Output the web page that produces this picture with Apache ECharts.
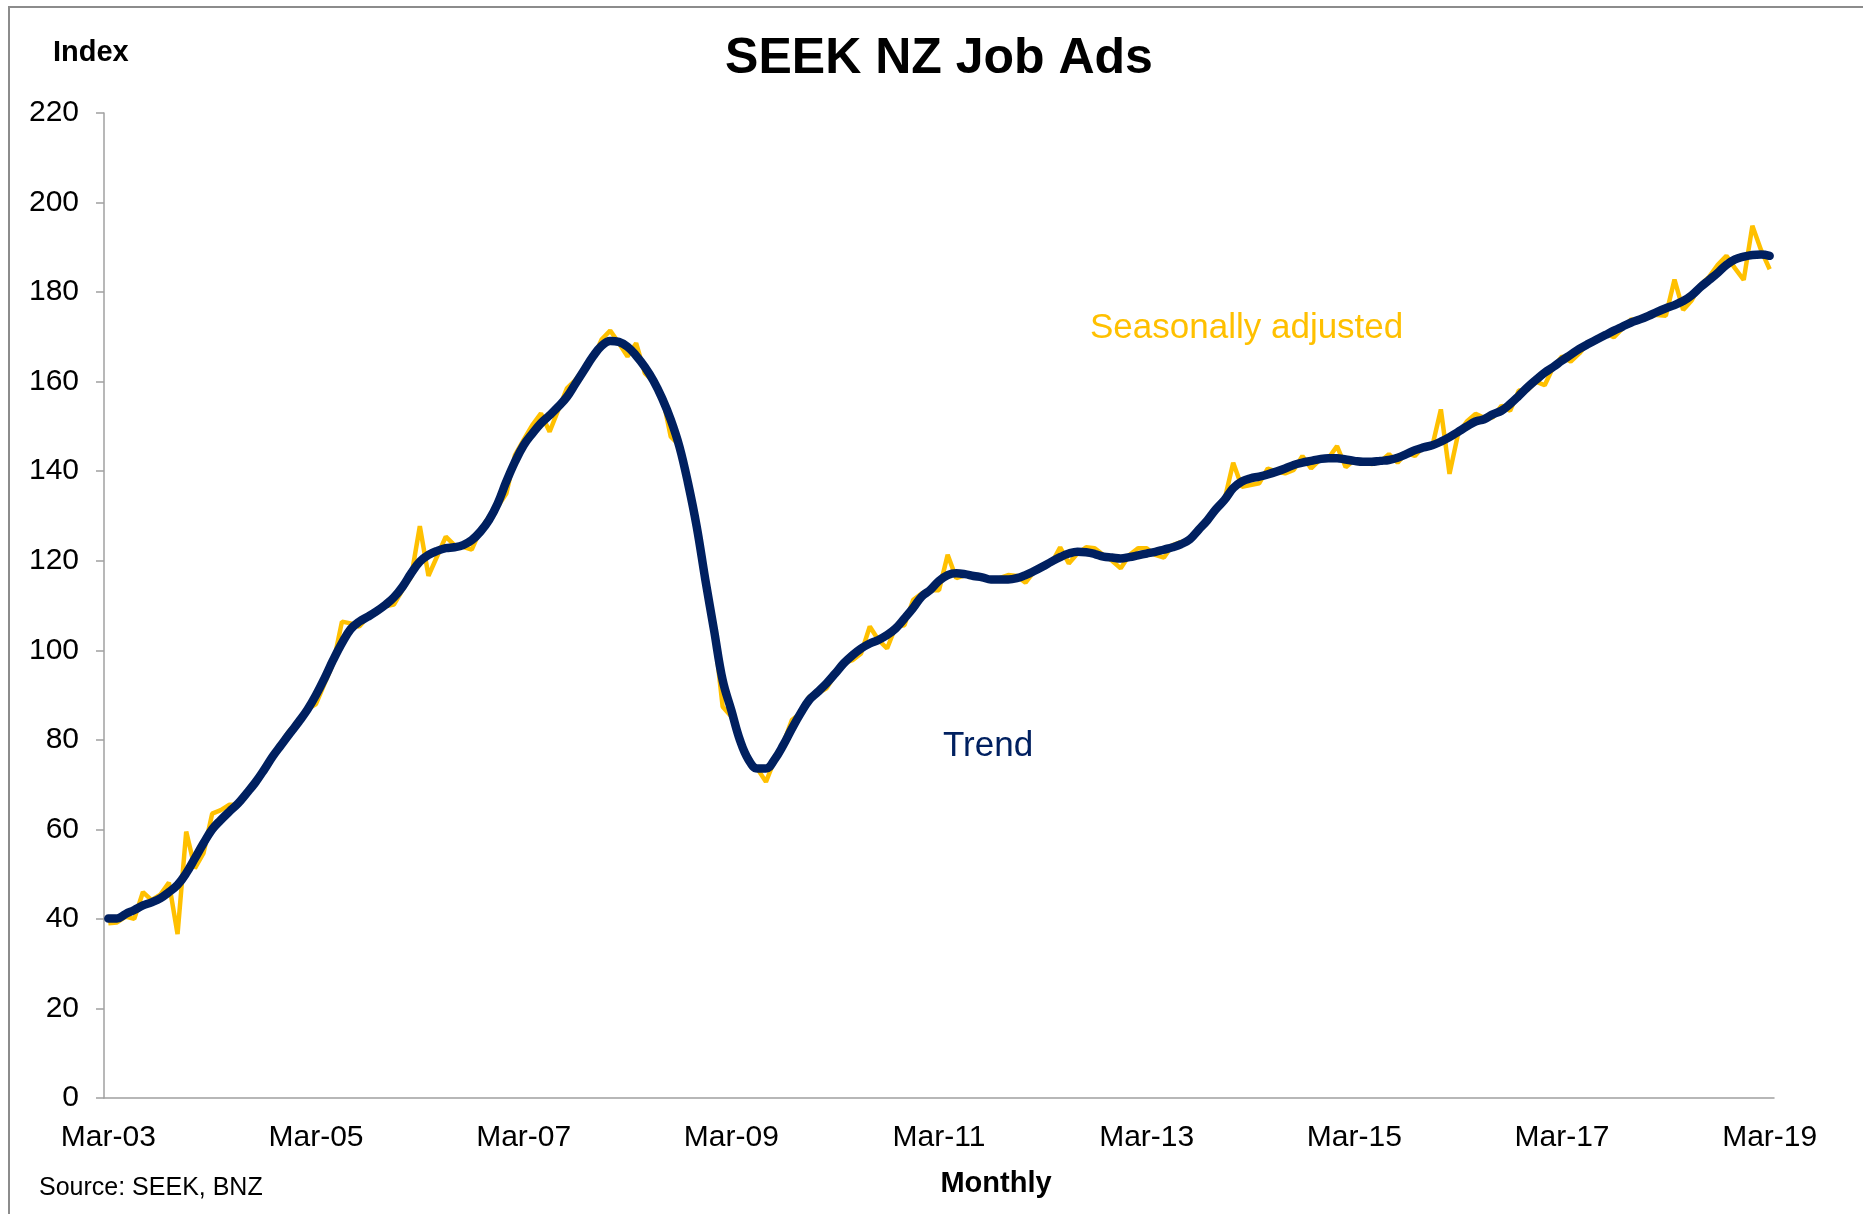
<!DOCTYPE html>
<html>
<head>
<meta charset="utf-8">
<title>SEEK NZ Job Ads</title>
<script src="https://cdn.jsdelivr.net/npm/echarts@6/dist/echarts.min.js"></script>
<style>
  html, body { margin: 0; padding: 0; background: #fff; }
  #chart { width: 1863px; height: 1214px; }
</style>
</head>
<body>
<div id="chart"></div>
<script>
// monthly categories, Mar-03 .. Mar-19
const monthNames = ['Jan', 'Feb', 'Mar', 'Apr', 'May', 'Jun', 'Jul', 'Aug', 'Sep', 'Oct', 'Nov', 'Dec']
const months = []
for (let k = 0; k < 193; k++) {
  const m = (2 + k) % 12
  const y = 3 + Math.floor((2 + k) / 12)
  months.push(monthNames[m] + '-' + String(y).padStart(2, '0'))
}

const yTicks = [0, 20, 40, 60, 80, 100, 120, 140, 160, 180, 200, 220]

// Seasonally adjusted index
const seasonallyAdjusted = [
  39.0, 39.2, 40.5, 40.0, 46.0, 44.2, 45.4, 48.1, 36.6, 59.5,
  51.3, 54.7, 63.5, 64.3, 65.5, 65.5, 68.0, 70.7, 73.3, 76.3,
  79.4, 82.2, 84.0, 86.8, 88.0, 92.6, 97.1, 106.4, 106.0, 105.3,
  107.5, 108.3, 109.8, 110.2,
  113.5, 116.4, 127.7, 116.6, 121.0, 125.4, 123.5, 123.1, 122.5, 126.9,
  129.8, 132.1, 135.0, 143.6, 147.0, 150.3, 152.9, 148.8, 153.7, 158.5,
  160.4, 163.0, 165.0, 169.4, 171.4, 168.6, 165.6, 168.6, 161.9, 160.0,
  157.0,
  147.7, 145.8, 136.5, 126.1, 117.2, 104.5, 87.4, 85.2, 79.2, 75.1,
  73.6, 70.6, 75.5, 79.2, 84.4, 85.9, 89.6, 90.4, 91.5, 94.5,
  97.1, 97.8, 99.3, 105.3, 102.3, 100.4, 105.3, 105.6, 111.2, 112.7,
  113.4, 113.4,
  121.3, 116.1, 116.8, 116.6, 116.3, 115.7, 116.1, 116.8, 116.6, 115.1,
  117.6, 118.7, 119.4, 123.0, 119.4, 121.6, 123.0, 122.8, 121.3, 120.0,
  118.3, 121.3, 122.8, 122.8, 121.3, 120.7, 123.5, 124.2, 124.6, 126.5,
  128.5, 132.0,
  133.6, 141.9, 136.5, 136.9, 137.3, 140.6, 139.9, 139.5, 140.3, 143.4,
  140.6, 142.5, 142.9, 145.6, 140.9, 142.5, 142.1, 141.6, 142.1, 143.8,
  141.9, 144.1, 143.4, 145.5, 145.5, 153.8, 139.4, 148.4, 151.1, 152.8,
  151.9, 152.0,
  154.6, 153.5, 158.0, 158.1, 160.0, 159.2, 163.3, 165.6, 164.5, 166.3,
  168.6, 169.0, 170.8, 169.9, 171.9, 173.9, 173.6, 174.9, 174.9, 174.7,
  182.8, 176.0, 178.2, 181.6, 183.4, 186.1, 188.1, 185.3, 182.7, 194.8,
  189.4, 185.1
]

// Trend index
const trend = [
  40.1, 40.1, 41.1, 42.0, 43.0, 43.7, 44.6, 46.0, 47.6, 50.2,
  53.5, 56.9, 60.0, 62.1, 64.0, 65.8, 68.1, 70.5, 73.3, 76.3,
  78.9, 81.5, 84.0, 86.7, 90.0, 93.8, 97.9, 101.6, 104.7, 106.4,
  107.5, 108.7, 110.1, 111.8,
  114.2, 117.2, 119.8, 121.3, 122.2, 122.8, 123.0, 123.5, 124.6, 126.5,
  129.1, 132.8, 137.7, 142.1, 145.8, 148.4, 150.7, 152.5, 154.4, 156.6,
  159.6, 162.6, 165.6, 168.0, 169.1, 168.9, 167.8, 165.8, 163.3, 160.2,
  156.3,
  151.5, 145.5, 137.3, 127.6, 115.7, 104.5, 93.3, 86.6, 79.9, 75.5,
  73.6, 73.6, 75.6, 78.8, 82.5, 85.9, 88.9, 90.7, 92.6, 94.8,
  97.1, 98.9, 100.4, 101.5, 102.3, 103.4, 104.9, 107.1, 109.4, 112.0,
  113.5, 115.5,
  116.8, 117.2, 117.0, 116.6, 116.3, 115.8, 115.8, 115.8, 116.1, 116.8,
  117.7, 118.7, 119.8, 120.8, 121.6, 122.0, 121.9, 121.5, 120.9, 120.7,
  120.5, 120.8, 121.2, 121.6, 122.0, 122.5, 123.0, 123.7, 124.8, 126.9,
  129.0, 131.5,
  133.6, 136.2, 137.7, 138.4, 138.8, 139.3, 139.9, 140.6, 141.4, 141.9,
  142.3, 142.7, 142.9, 142.9, 142.6, 142.3, 142.1, 142.1, 142.3, 142.5,
  143.0, 143.8, 144.7, 145.3, 145.8, 146.6, 147.6, 148.8, 150.0, 151.1,
  151.6, 152.7,
  153.5, 155.0, 156.8, 158.7, 160.4, 162.0, 163.3, 164.7, 166.0, 167.3,
  168.4, 169.4, 170.4, 171.4, 172.3, 173.2, 173.9, 174.7, 175.6, 176.4,
  177.1, 178.0, 179.3, 181.1, 182.7, 184.3, 186.1, 187.3, 187.9, 188.3,
  188.4, 188.1
]

const fontFamily = '"Liberation Sans", Arial, sans-serif'
const axisGray = '#a0a0a0'
const gold = '#FFC000'
const navy = '#002060'

const chart = echarts.init(document.getElementById('chart'))

const option = {
  animation: false,
  backgroundColor: '#ffffff',
  grid: {
    left: 104,
    right: 89,
    top: 113,
    bottom: 116
  },
  xAxis: {
    type: 'category',
    data: months,
    boundaryGap: true,
    axisLine: { lineStyle: { color: axisGray, width: 1.5 } },
    axisTick: {
      interval: 23,
      length: 8,
      lineStyle: { color: axisGray, width: 1.5 }
    },
    axisLabel: {
      interval: 23,
      margin: 25,
      color: '#000',
      fontSize: 30,
      fontFamily: fontFamily
    },
    splitLine: { show: false }
  },
  yAxis: {
    type: 'value',
    min: yTicks[0],
    max: yTicks[yTicks.length - 1],
    interval: 20,
    axisLine: { show: true, lineStyle: { color: axisGray, width: 1.5 } },
    axisTick: { show: true, length: 8, lineStyle: { color: axisGray, width: 1.5 } },
    axisLabel: {
      margin: 25,
      color: '#000',
      fontSize: 30,
      fontFamily: fontFamily
    },
    splitLine: { show: false }
  },
  series: [
    {
      name: 'Seasonally adjusted',
      type: 'line',
      data: seasonallyAdjusted,
      showSymbol: false,
      lineStyle: { color: gold, width: 4.5 },
      itemStyle: { color: gold },
      z: 2
    },
    {
      name: 'Trend',
      type: 'line',
      data: trend,
      showSymbol: false,
      smooth: 0.4,
      lineStyle: { color: navy, width: 8.5, cap: 'round', join: 'round' },
      itemStyle: { color: navy },
      z: 3
    }
  ],
  graphic: [
    // outer frame (cut at right and bottom)
    {
      type: 'rect',
      shape: { x: 9, y: 7, width: 1900, height: 1300 },
      style: { fill: 'none', stroke: '#8c8c8c', lineWidth: 2 },
      silent: true
    },
    {
      type: 'text',
      style: {
        text: 'SEEK NZ Job Ads',
        x: 939, y: 59,
        textAlign: 'center', textVerticalAlign: 'middle',
        font: 'bold 50px ' + fontFamily,
        fill: '#000'
      }
    },
    {
      type: 'text',
      style: {
        text: 'Index',
        x: 53, y: 53,
        textAlign: 'left', textVerticalAlign: 'middle',
        font: 'bold 29px ' + fontFamily,
        fill: '#000'
      }
    },
    {
      type: 'text',
      style: {
        text: 'Seasonally adjusted',
        x: 1090, y: 328,
        textAlign: 'left', textVerticalAlign: 'middle',
        font: '35px ' + fontFamily,
        fill: gold
      }
    },
    {
      type: 'text',
      style: {
        text: 'Trend',
        x: 943, y: 746,
        textAlign: 'left', textVerticalAlign: 'middle',
        font: '35px ' + fontFamily,
        fill: navy
      }
    },
    {
      type: 'text',
      style: {
        text: 'Monthly',
        x: 996, y: 1184,
        textAlign: 'center', textVerticalAlign: 'middle',
        font: 'bold 29px ' + fontFamily,
        fill: '#000'
      }
    },
    {
      type: 'text',
      style: {
        text: 'Source: SEEK, BNZ',
        x: 39, y: 1188,
        textAlign: 'left', textVerticalAlign: 'middle',
        font: '25px ' + fontFamily,
        fill: '#000'
      }
    }
  ]
}

chart.setOption(option)
</script>
</body>
</html>
